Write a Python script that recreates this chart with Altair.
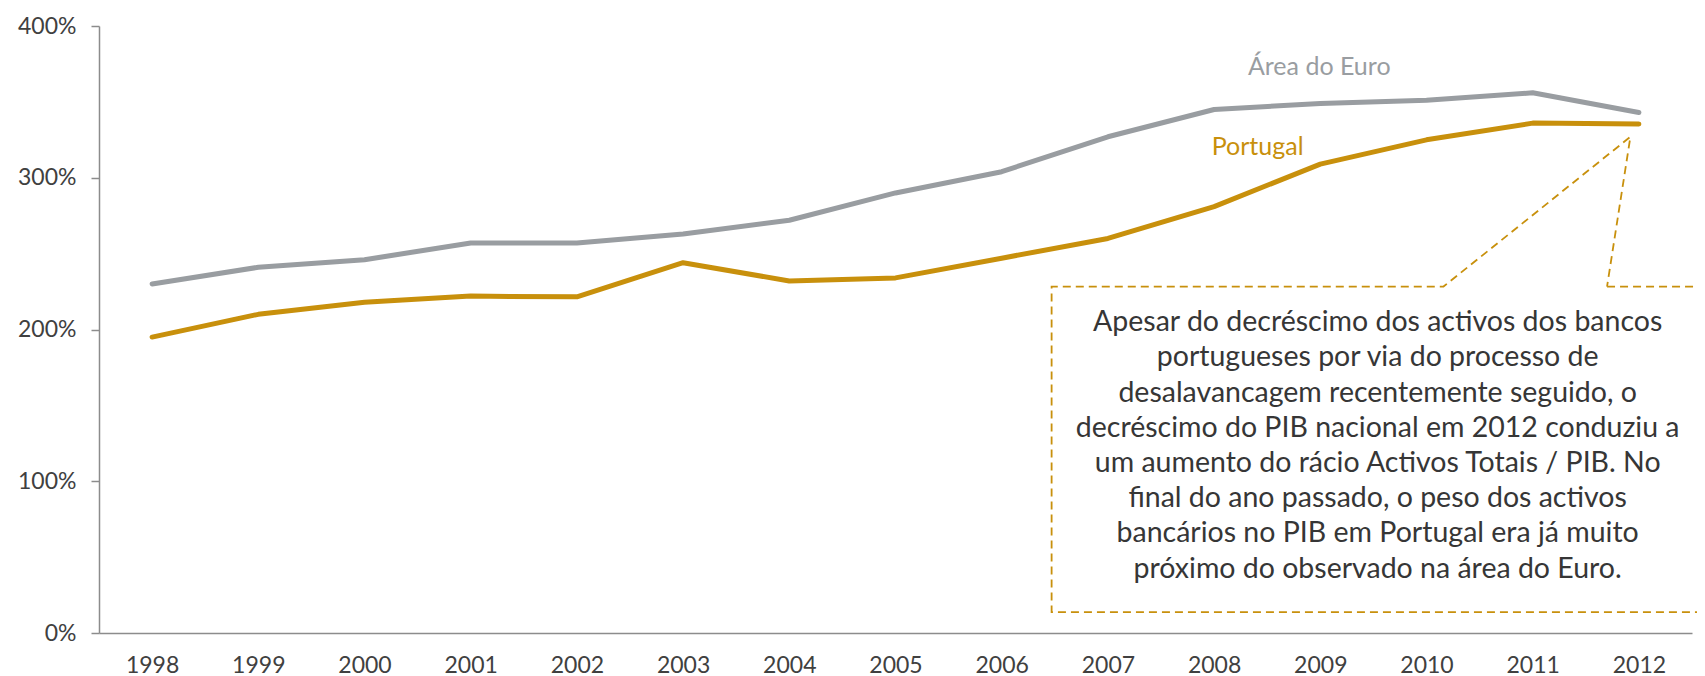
import altair as alt
import pandas as pd

years = list(range(1998, 2013))
euro = [2.30, 2.41, 2.46, 2.57, 2.57, 2.63, 2.72, 2.90, 3.04, 3.27, 3.45, 3.49, 3.51, 3.56, 3.43]
portugal = [1.95, 2.10, 2.18, 2.22, 2.215, 2.44, 2.32, 2.34, 2.47, 2.60, 2.81, 3.09, 3.25, 3.36, 3.354]
series_names = ["Área do Euro", "Portugal"]
series_colors = ["#999DA1", "#C8900C"]
y_ticks = [0, 1, 2, 3, 4]

# series label positions (data units)
label_x = [2008.99, 2008.41]
label_y = [3.73, 3.20]

# callout box outline (data units)
box_x = [2011.70, 2012.70, 2012.70, 2006.47, 2006.47, 2010.16, 2011.92, 2011.70]
box_y = [2.283, 2.283, 0.138, 0.138, 2.283, 2.283, 3.27, 2.283]
box_text = ("Apesar do decréscimo dos activos dos bancos\n"
            "portugueses por via do processo de\n"
            "desalavancagem recentemente seguido, o\n"
            "decréscimo do PIB nacional em 2012 conduziu a\n"
            "um aumento do rácio Activos Totais / PIB.  No\n"
            "final do ano passado, o peso dos activos\n"
            "bancários no PIB em Portugal era já muito\n"
            "próximo do observado na área do Euro.")
box_text_x = [2009.54]
box_text_y = [2.048]

df = pd.DataFrame({
    "year": years * 2,
    "value": euro + portugal,
    "series": [series_names[0]] * len(years) + [series_names[1]] * len(years),
})
labels = pd.DataFrame({"x": label_x, "y": label_y, "series": series_names})
box = pd.DataFrame({"x": box_x, "y": box_y, "i": list(range(len(box_x)))})
txt = pd.DataFrame({"x": box_text_x, "y": box_text_y, "t": [box_text]})

xscale = alt.Scale(domain=[1997.5, 2012.5], nice=False, zero=False)
yscale = alt.Scale(domain=[0, 4], nice=False)
color = alt.Color("series:N", scale=alt.Scale(domain=series_names, range=series_colors), legend=None)

lines = alt.Chart(df).mark_line(strokeWidth=5, strokeCap="round", strokeJoin="round").encode(
    x=alt.X("year:Q", scale=xscale, title=None,
            axis=alt.Axis(values=years, format="d", tickSize=0, labelPadding=21, grid=False,
                          domainColor="#8c8c8c", domainWidth=1.5, labelFontSize=23,
                          labelColor="#404040", labelFlush=False)),
    y=alt.Y("value:Q", scale=yscale, title=None,
            axis=alt.Axis(values=y_ticks, format=".0%", tickSize=8, labelPadding=15, grid=False,
                          domainColor="#8c8c8c", tickColor="#8c8c8c", domainWidth=1.5, tickWidth=1.5,
                          labelFontSize=23, labelColor="#404040")),
    color=color,
)

lbl = alt.Chart(labels).mark_text(fontSize=25, align="center", baseline="middle").encode(
    x=alt.X("x:Q", scale=xscale), y=alt.Y("y:Q", scale=yscale), color=color, text="series:N"
)

outline = alt.Chart(box).mark_line(color="#C8900C", strokeWidth=1.8, strokeDash=[8, 5]).encode(
    x=alt.X("x:Q", scale=xscale), y=alt.Y("y:Q", scale=yscale), order="i:Q"
)

note = alt.Chart(txt).mark_text(fontSize=28.5, align="center", baseline="middle", lineBreak="\n",
                                lineHeight=35.2, color="#363636").encode(
    x=alt.X("x:Q", scale=xscale), y=alt.Y("y:Q", scale=yscale), text="t:N"
)

chart = alt.layer(lines, outline, note, lbl).properties(
    width=1593, height=607,
    autosize=alt.AutoSizeParams(type="none"),
    padding={"left": 91, "top": 18, "right": 5, "bottom": 50},
).configure(font="Lato").configure_view(stroke=None)

chart.save("out.html", embed_options={"renderer": "svg", "actions": False})
